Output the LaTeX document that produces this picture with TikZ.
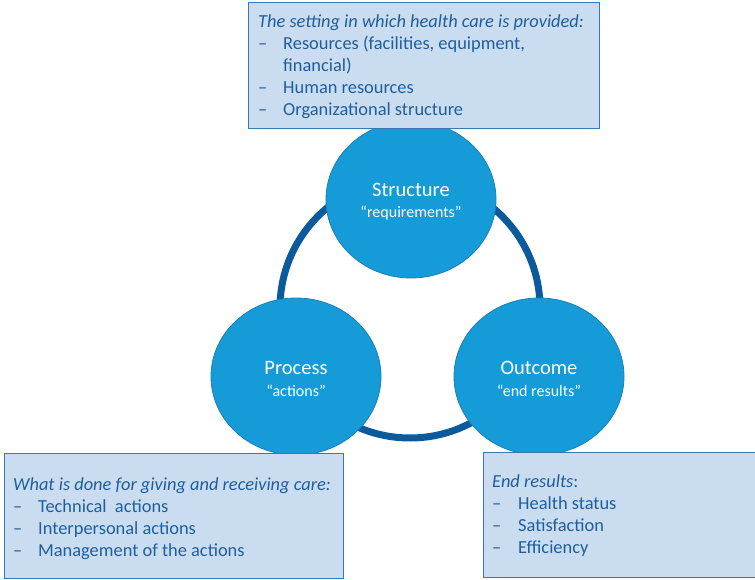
\documentclass[tikz,border=0pt]{standalone}
\usepackage{fontspec}
\setmainfont{Carlito}
\usetikzlibrary{shapes.geometric}

\definecolor{ringblue}{HTML}{0B5A9C}
\definecolor{ballblue}{HTML}{159BD7}
\definecolor{balledge}{HTML}{1C7FB8}
\definecolor{boxfill}{HTML}{CADDF0}
\definecolor{boxedge}{HTML}{3A78B0}
\definecolor{boxtext}{HTML}{1F5E9E}

\tikzset{
  ringline/.style={draw=ringblue, line width=7pt},
  ball/.style={ellipse, draw=balledge, fill=ballblue, line width=0.8pt,
    minimum width=170pt, minimum height=157pt, inner sep=0pt,
    text=white, align=center, font=\fontsize{16}{21.5}\selectfont},
  infobox/.style={draw=boxedge, fill=boxfill, line width=1.2pt,
    anchor=north west, inner sep=0pt},
  infotext/.style={anchor=base west, inner sep=0pt, text=boxtext,
    align=left, font=\fontsize{18.4}{22}\selectfont},
}
\newcommand{\dashitem}{\makebox[25pt][l]{–}}
\newcommand{\balltitle}[1]{{\fontsize{20.5}{21.5}\selectfont\rule{0pt}{18pt}#1}}

\begin{document}
\begin{tikzpicture}[x=1pt, y=-1pt]
    \useasboundingbox (0,0) rectangle (755,580);

    % ring behind the three circles
    \coordinate (hub) at (410,308);
    \draw[ringline] (hub) circle[radius=130];

    \node[ball] (structure) at (411,199.5) {\balltitle{Structure}\\“requirements”};
    \node[ball] (process) at (296,376.5) {\balltitle{Process}\\“actions”};
    \node[ball] (outcome) at (539,376.5) {\balltitle{Outcome}\\“end results”};

    % setting (placed by its last line)
    \node[infobox, minimum width=351pt, minimum height=126pt] (settingbox) at (248,2) {};
    \node[infotext] (settingtxt) at (258,115.5) {%
        {\itshape The setting in which health care is provided:}\\
        \dashitem Resources (facilities, equipment,\\
        \hspace*{25pt}financial)\\
        \dashitem Human resources\\
        \dashitem Organizational structure};

    % actions
    \node[infobox, minimum width=339pt, minimum height=125pt] (actionbox) at (4,453) {};
    \node[infotext] (actiontxt) at (13,556) {%
        {\itshape What is done for giving and receiving care:}\\
        \dashitem Technical~ actions\\
        \dashitem Interpersonal actions\\
        \dashitem Management of the actions};

    % results
    \node[infobox, minimum width=274pt, minimum height=125pt] (resultbox) at (483,452) {};
    \node[infotext] (resulttxt) at (492,553) {%
        {\itshape End results}:\\
        \makebox[26pt][l]{–}Health status\\
        \makebox[26pt][l]{–}Satisfaction\\
        \makebox[26pt][l]{–}Efficiency};
\end{tikzpicture}
\end{document}
